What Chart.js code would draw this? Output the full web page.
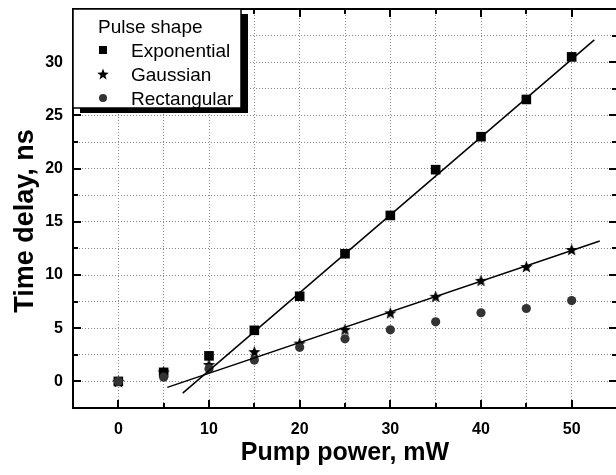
<!DOCTYPE html>
<html>
<head>
<meta charset="utf-8">
<script src="https://cdn.jsdelivr.net/npm/chart.js@4.4.1/dist/chart.umd.min.js"></script>
<style>
    html, body { margin: 0; padding: 0; background: #ffffff; overflow: hidden; }
    #wrap { width: 624px; height: 475px; position: relative; }
</style>
</head>
<body>
<div id="wrap"><canvas id="delayChart"></canvas></div>
<script>
// Pump power values (mW)
const power = [0, 5, 10, 15, 20, 25, 30, 35, 40, 45, 50];

// Time delay (ns) per pulse shape
const exponential = [0, 0.85, 2.4, 4.8, 8.0, 12.0, 15.6, 19.9, 23.0, 26.5, 30.5];
const gaussian = [0, 0.9, 1.6, 2.8, 3.6, 4.9, 6.45, 8.0, 9.5, 10.8, 12.4];
const rectangular = [0, 0.4, 1.2, 2.0, 3.2, 4.0, 4.85, 5.6, 6.45, 6.85, 7.6];

// Linear fit end points
const expFitX = [7.1, 52.5];
const expFitY = [-1.1, 32.1];
const gaussFitX = [5.4, 53.1];
const gaussFitY = [-0.56, 13.2];

// Axis ranges / ticks
const xRange = [-5, 55];
const yRange = [-2.5, 35];
const xLabels = [0, 10, 20, 30, 40, 50];
const yLabels = [0, 5, 10, 15, 20, 25, 30];

const FONT = '"Liberation Sans", Arial, sans-serif';

const toPoints = (xs, ys) => xs.map((x, i) => ({ x: x, y: ys[i] }));

// filled five point star used as point style
function makeStar(size) {
    const c = document.createElement('canvas');
    c.width = size;
    c.height = size;
    const g = c.getContext('2d');
    const cx = size / 2, cy = size / 2 + size * 0.05;
    const outer = size / 2, inner = outer * 0.42;
    g.beginPath();
    for (let i = 0; i < 10; i++) {
        const r = i % 2 === 0 ? outer : inner;
        const a = -Math.PI / 2 + i * Math.PI / 5;
        const px = cx + r * Math.cos(a), py = cy + r * Math.sin(a);
        if (i === 0) g.moveTo(px, py); else g.lineTo(px, py);
    }
    g.closePath();
    g.fillStyle = '#000000';
    g.fill();
    return c;
}
const starBig = makeStar(13);
const starSmall = makeStar(12);

// no extra padding for empty edge labels
function fixBox(s, key, size) {
    s[key] = size;
    s.paddingTop = 0;
    s.paddingBottom = 0;
    s.paddingLeft = 0;
    s.paddingRight = 0;
}

// frame with inward ticks on all four sides, plus rotated y title
const framePlugin = {
    id: 'frame',
    afterDatasetsDraw(chart) {
        const ctx = chart.ctx;
        const a = chart.chartArea;
        const xs = chart.scales.x, ys = chart.scales.y;
        ctx.save();
        ctx.strokeStyle = '#000000';
        ctx.lineWidth = 2;
        ctx.beginPath();
        xs.ticks.forEach(t => {
            const px = Math.round(xs.getPixelForValue(t.value));
            const len = xLabels.includes(t.value) ? 8 : 5;
            ctx.moveTo(px, a.bottom); ctx.lineTo(px, a.bottom - len);
            ctx.moveTo(px, a.top); ctx.lineTo(px, a.top + len);
        });
        ys.ticks.forEach(t => {
            const py = Math.round(ys.getPixelForValue(t.value));
            const len = yLabels.includes(t.value) ? 8 : 5;
            ctx.moveTo(a.left, py); ctx.lineTo(a.left + len, py);
            ctx.moveTo(a.right, py); ctx.lineTo(a.right - len, py);
        });
        ctx.stroke();
        ctx.strokeRect(a.left, a.top, a.right - a.left, a.bottom - a.top);

        ctx.translate(33, 221);
        ctx.rotate(-Math.PI / 2);
        ctx.fillStyle = '#000000';
        ctx.font = 'bold 27px ' + FONT;
        ctx.textAlign = 'center';
        ctx.textBaseline = 'alphabetic';
        ctx.fillText('Time delay, ns', 0, 0);
        ctx.restore();
    }
};

// legend box with drop shadow in the upper left corner
const legendPlugin = {
    id: 'boxLegend',
    afterDraw(chart) {
        const ctx = chart.ctx;
        const a = chart.chartArea;
        const x0 = a.left, y0 = a.top, w = 168, h = 99;
        ctx.save();
        ctx.fillStyle = '#000000';
        ctx.fillRect(x0 + 7, y0 + 5, w, h);
        ctx.fillStyle = '#ffffff';
        ctx.fillRect(x0, y0, w, h);
        ctx.strokeStyle = '#000000';
        ctx.lineWidth = 1.5;
        ctx.strokeRect(x0, y0, w, h);

        ctx.fillStyle = '#000000';
        ctx.font = '19px ' + FONT;
        ctx.textBaseline = 'alphabetic';
        ctx.fillText('Pulse shape', x0 + 25, y0 + 24);

        const entries = chart.data.datasets
            .filter(d => d.legendStyle)
            .sort((p, q) => p.legendOrder - q.legendOrder);
        entries.forEach((d, i) => {
            const cy = y0 + 41 + i * 24;
            const mx = x0 + 30;
            ctx.fillStyle = d.backgroundColor;
            if (d.legendStyle === 'rect') {
                ctx.fillRect(mx - 4, cy - 4, 8, 8);
            } else if (d.legendStyle === 'circle') {
                ctx.beginPath();
                ctx.arc(mx, cy, 4, 0, Math.PI * 2);
                ctx.fill();
            } else {
                ctx.drawImage(starSmall, mx - 6, cy - 6);
            }
            ctx.fillStyle = '#000000';
            ctx.fillText(d.label, x0 + 58, cy + 7);
        });
        ctx.restore();
    }
};

const ctx = document.getElementById('delayChart').getContext('2d');

new Chart(ctx, {
    type: 'scatter',
    data: {
        datasets: [
            {
                type: 'line',
                label: 'Exponential fit',
                data: toPoints(expFitX, expFitY),
                borderColor: '#000000',
                borderWidth: 1.5,
                pointRadius: 0,
                fill: false
            },
            {
                type: 'line',
                label: 'Gaussian fit',
                data: toPoints(gaussFitX, gaussFitY),
                borderColor: '#000000',
                borderWidth: 1.5,
                pointRadius: 0,
                fill: false
            },
            {
                label: 'Rectangular',
                legendStyle: 'circle',
                legendOrder: 3,
                data: toPoints(power, rectangular),
                pointStyle: 'circle',
                pointRadius: 4.6,
                backgroundColor: '#333333',
                borderColor: '#333333',
                borderWidth: 0
            },
            {
                label: 'Gaussian',
                legendStyle: 'star',
                legendOrder: 2,
                data: toPoints(power, gaussian),
                pointStyle: starBig,
                pointRadius: 6,
                backgroundColor: '#000000',
                borderColor: '#000000'
            },
            {
                label: 'Exponential',
                legendStyle: 'rect',
                legendOrder: 1,
                data: toPoints(power, exponential),
                pointStyle: 'rect',
                pointRadius: 6.8,
                backgroundColor: '#000000',
                borderColor: '#000000',
                borderWidth: 0
            }
        ]
    },
    options: {
        responsive: true,
        maintainAspectRatio: false,
        animation: false,
        layout: { padding: { top: 9, right: 5, left: 0, bottom: 0 } },
        plugins: {
            legend: { display: false },
            tooltip: { enabled: false }
        },
        scales: {
            x: {
                type: 'linear',
                min: xRange[0],
                max: xRange[1],
                afterFit: (s) => fixBox(s, 'height', 67),
                grid: { color: '#8a8a8a', lineWidth: 1, drawTicks: false },
                border: { display: false, dash: [1, 2] },
                ticks: {
                    stepSize: 5,
                    padding: 12,
                    color: '#000000',
                    font: { family: FONT, size: 16, weight: 'bold' },
                    callback: (v) => xLabels.includes(v) ? String(v) : ''
                },
                title: {
                    display: true,
                    text: 'Pump power, mW',
                    color: '#000000',
                    font: { family: FONT, size: 25, weight: 'bold' },
                    padding: { top: 0, bottom: 7 }
                }
            },
            y: {
                type: 'linear',
                min: yRange[0],
                max: yRange[1],
                afterFit: (s) => fixBox(s, 'width', 73),
                grid: { color: '#8a8a8a', lineWidth: 1, drawTicks: false },
                border: { display: false, dash: [1, 2] },
                ticks: {
                    stepSize: 2.5,
                    padding: 10,
                    color: '#000000',
                    font: { family: FONT, size: 16, weight: 'bold' },
                    callback: (v) => yLabels.includes(v) ? String(v) : ''
                }
            }
        }
    },
    plugins: [framePlugin, legendPlugin]
});
</script>
</body>
</html>
